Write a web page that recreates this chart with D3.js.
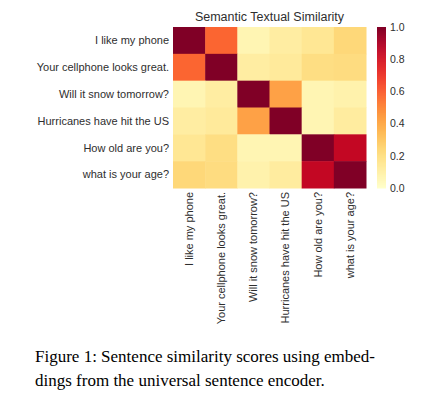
<!DOCTYPE html>
<html>
<head>
<meta charset="utf-8">
<script src="https://cdn.jsdelivr.net/npm/d3@7"></script>
<style>
  body { margin: 0; background: #fff; }
  svg { display: block; }
</style>
</head>
<body>
<svg id="chart"></svg>
<script>
// sentences (rows and columns)
var sentences = ["I like my phone", "Your cellphone looks great.", "Will it snow tomorrow?",
    "Hurricanes have hit the US", "How old are you?", "what is your age?"];

// similarity values, one row per sentence
var row0 = [1.00, 0.58, 0.07, 0.12, 0.16, 0.24];
var row1 = [0.58, 1.00, 0.12, 0.14, 0.21, 0.22];
var row2 = [0.07, 0.12, 1.00, 0.43, 0.07, 0.09];
var row3 = [0.12, 0.14, 0.43, 1.00, 0.07, 0.13];
var row4 = [0.16, 0.21, 0.07, 0.07, 1.00, 0.85];
var row5 = [0.24, 0.22, 0.09, 0.13, 0.85, 1.00];
var rows = [row0, row1, row2, row3, row4, row5];

var colorTicks = [0.0, 0.2, 0.4, 0.6, 0.8, 1.0];

var width = 439, height = 399;
var svg = d3.select("#chart").attr("width", width).attr("height", height);

// heatmap box (note: "top" is reserved on window, so use hm_*)
var hm_left = 173, hm_right = 366, hm_top = 27, hm_bottom = 188;

var x = d3.scaleBand().domain(d3.range(sentences.length)).range([hm_left, hm_right]);
var y = d3.scaleBand().domain(d3.range(sentences.length)).range([hm_top, hm_bottom]);
var color = d3.scaleSequential(d3.interpolateYlOrRd).domain([0, 1]);

var cells = [];
rows.forEach(function (r, i) {
    r.forEach(function (v, j) {
        cells.push({ row: i, col: j, value: v });
    });
});

svg.append("g")
    .selectAll("rect")
    .data(cells)
    .enter().append("rect")
    .attr("x", function (d) { return x(d.col); })
    .attr("y", function (d) { return y(d.row); })
    .attr("width", x.bandwidth() + 0.5)
    .attr("height", y.bandwidth() + 0.5)
    .attr("fill", function (d) { return color(d.value); });

// y labels
svg.append("g")
    .selectAll("text")
    .data(sentences)
    .enter().append("text")
    .attr("x", hm_left - 4)
    .attr("y", function (d, i) { return y(i) + y.bandwidth() / 2; })
    .attr("dy", "0.35em")
    .attr("text-anchor", "end")
    .attr("font-family", "Liberation Sans, Arial, sans-serif")
    .attr("font-size", "11px")
    .attr("fill", "#2e2e2e")
    .text(function (d) { return d; });

// x labels, rotated
svg.append("g")
    .selectAll("text")
    .data(sentences)
    .enter().append("text")
    .attr("transform", function (d, i) {
        return "translate(" + (x(i) + x.bandwidth() / 2) + "," + (hm_bottom + 4) + ") rotate(-90)";
    })
    .attr("dy", "0.35em")
    .attr("text-anchor", "end")
    .attr("font-family", "Liberation Sans, Arial, sans-serif")
    .attr("font-size", "11px")
    .attr("fill", "#2e2e2e")
    .text(function (d) { return d; });

// title
svg.append("text")
    .attr("x", (hm_left + hm_right) / 2)
    .attr("y", 21)
    .attr("text-anchor", "middle")
    .attr("font-family", "Liberation Sans, Arial, sans-serif")
    .attr("font-size", "12.5px")
    .attr("fill", "#2e2e2e")
    .text("Semantic Textual Similarity");

// colorbar
var cbLeft = 377, cbWidth = 9;
var cbScale = d3.scaleLinear().domain([0, 1]).range([hm_bottom, hm_top]);
var steps = d3.range(0, 1, 1 / 160);
svg.append("g")
    .selectAll("rect")
    .data(steps)
    .enter().append("rect")
    .attr("x", cbLeft)
    .attr("y", function (d) { return cbScale(d + 1 / 160); })
    .attr("width", cbWidth)
    .attr("height", (hm_bottom - hm_top) / 160 + 0.5)
    .attr("fill", function (d) { return color(d + 0.5 / 160); });

var cbAxis = svg.append("g")
    .attr("transform", "translate(" + (cbLeft + cbWidth) + ",0)")
    .call(d3.axisRight(cbScale).tickValues(colorTicks).tickSize(0).tickPadding(4).tickFormat(d3.format(".1f")));
cbAxis.select(".domain").remove();
cbAxis.selectAll("text")
    .attr("font-family", "Liberation Sans, Arial, sans-serif")
    .attr("font-size", "10.5px")
    .attr("fill", "#2e2e2e");

// caption
var caption = svg.append("text")
    .attr("font-family", "Liberation Serif, Times New Roman, serif")
    .attr("font-size", "17px")
    .attr("fill", "#000");
caption.append("tspan").attr("x", 35).attr("y", 362)
    .text("Figure 1: Sentence similarity scores using embed-");
caption.append("tspan").attr("x", 35).attr("y", 386)
    .text("dings from the universal sentence encoder.");
</script>
</body>
</html>
